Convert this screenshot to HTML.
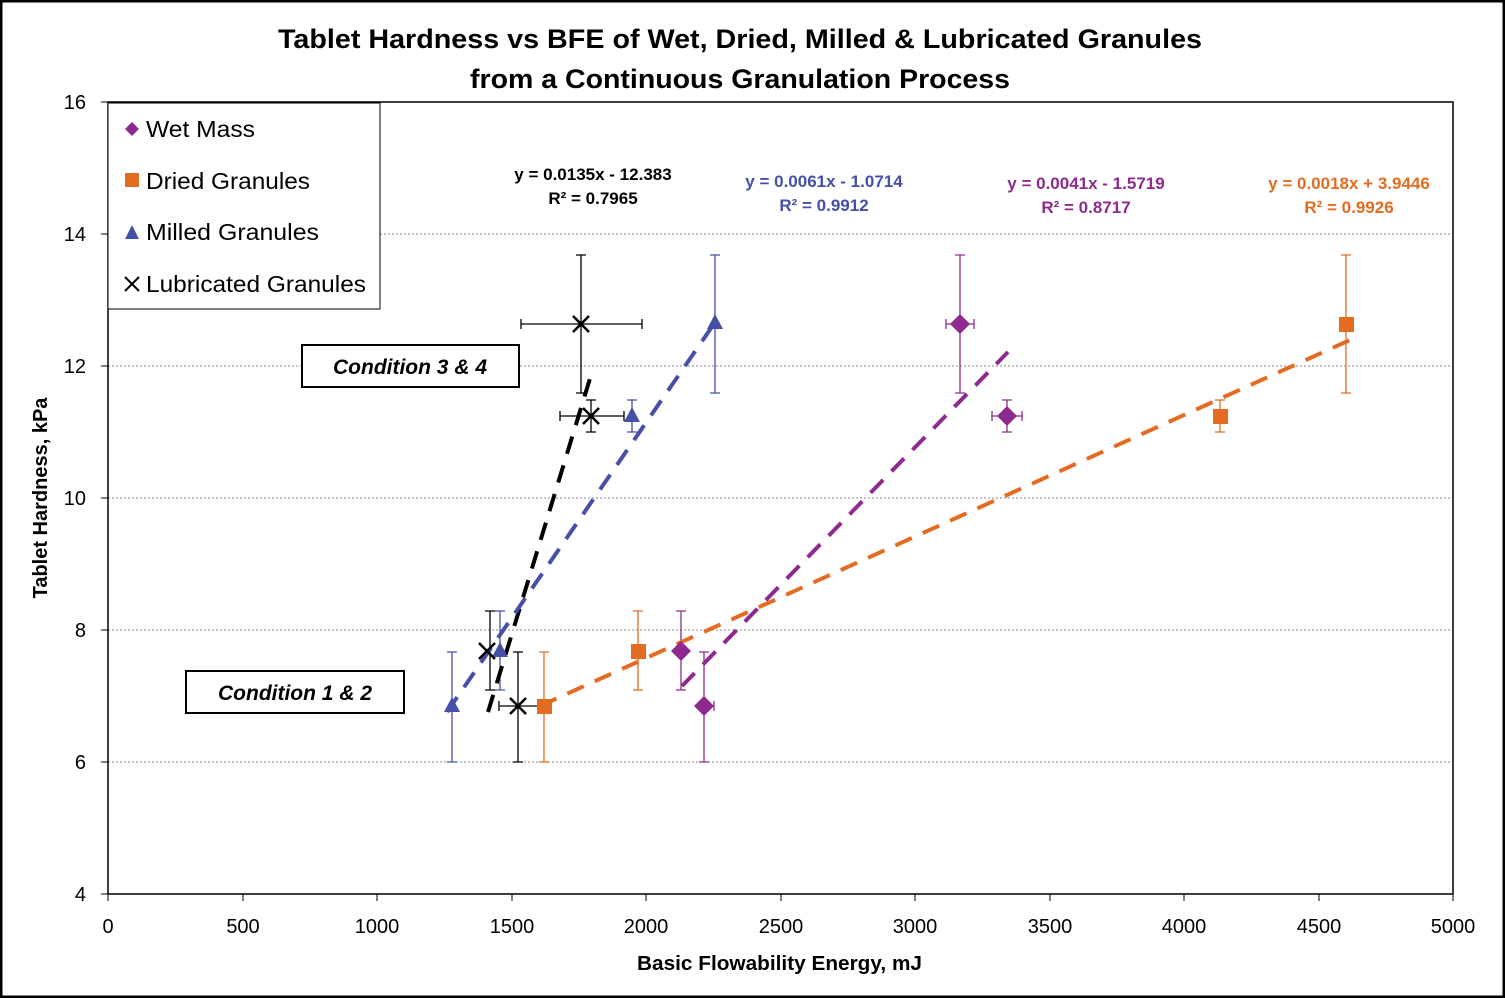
<!DOCTYPE html><html><head><style>body{margin:0}svg{display:block}text{font-family:"Liberation Sans",sans-serif}</style></head><body>
<svg width="1505" height="998" xmlns="http://www.w3.org/2000/svg">
<rect x="1" y="1" width="1503" height="996" fill="#fff" stroke="#000" stroke-width="3"/>
<text x="278" y="48" font-size="27" font-weight="bold" textLength="924" lengthAdjust="spacingAndGlyphs">Tablet Hardness vs BFE of Wet, Dried, Milled &amp; Lubricated Granules</text>
<text x="470" y="88" font-size="27" font-weight="bold" textLength="540" lengthAdjust="spacingAndGlyphs">from a Continuous Granulation Process</text>
<g stroke="#888" stroke-dasharray="2,2" stroke-width="1"><line x1="108" y1="234" x2="1453" y2="234"/><line x1="108" y1="366" x2="1453" y2="366"/><line x1="108" y1="498" x2="1453" y2="498"/><line x1="108" y1="630" x2="1453" y2="630"/><line x1="108" y1="762" x2="1453" y2="762"/></g>
<rect x="108" y="102" width="1345" height="792" fill="none" stroke="#000" stroke-width="1.5"/>
<g font-size="20" text-anchor="end"><text x="86" y="109">16</text><text x="86" y="241">14</text><text x="86" y="373">12</text><text x="86" y="505">10</text><text x="86" y="637">8</text><text x="86" y="769">6</text><text x="86" y="901">4</text></g>
<g stroke="#000"><line x1="101" y1="102" x2="108" y2="102"/><line x1="101" y1="234" x2="108" y2="234"/><line x1="101" y1="366" x2="108" y2="366"/><line x1="101" y1="498" x2="108" y2="498"/><line x1="101" y1="630" x2="108" y2="630"/><line x1="101" y1="762" x2="108" y2="762"/><line x1="101" y1="894" x2="108" y2="894"/></g>
<g font-size="20" text-anchor="middle"><text x="108" y="933">0</text><text x="243" y="933">500</text><text x="377" y="933">1000</text><text x="512" y="933">1500</text><text x="646" y="933">2000</text><text x="781" y="933">2500</text><text x="915" y="933">3000</text><text x="1050" y="933">3500</text><text x="1184" y="933">4000</text><text x="1319" y="933">4500</text><text x="1453" y="933">5000</text></g>
<g stroke="#000"><line x1="108" y1="894" x2="108" y2="901"/><line x1="243" y1="894" x2="243" y2="901"/><line x1="377" y1="894" x2="377" y2="901"/><line x1="512" y1="894" x2="512" y2="901"/><line x1="646" y1="894" x2="646" y2="901"/><line x1="781" y1="894" x2="781" y2="901"/><line x1="915" y1="894" x2="915" y2="901"/><line x1="1050" y1="894" x2="1050" y2="901"/><line x1="1184" y1="894" x2="1184" y2="901"/><line x1="1319" y1="894" x2="1319" y2="901"/><line x1="1453" y1="894" x2="1453" y2="901"/></g>
<text x="637" y="970" font-size="20" font-weight="bold" textLength="285" lengthAdjust="spacingAndGlyphs">Basic Flowability Energy, mJ</text>
<text transform="translate(47,498) rotate(-90)" font-size="20" font-weight="bold" text-anchor="middle">Tablet Hardness, kPa</text>
<g stroke-width="1.3" fill="none">
<path stroke="#8e2a8e" d="M960 255V393M955 255h10M955 393h10M946 324h28M946 319v10M974 319v10M1007 400V432M1002 400h10M1002 432h10M992 416h30M992 411v10M1022 411v10M681 611V690M676 611h10M676 690h10M704 652V762M699 652h10M699 762h10M696 706h18M714 701v10"/>
<path stroke="#e36c22" d="M1346 255V393M1341 255h10M1341 393h10M1220 400V432M1215 400h10M1215 432h10M638 611V690M633 611h10M633 690h10M544 652V762M539 652h10M539 762h10"/>
<path stroke="#4650a8" d="M715 255V393M710 255h10M710 393h10M632 400V432M627 400h10M627 432h10M500 611V690M495 611h10M495 690h10M452 652V762M447 652h10M447 762h10"/>
<path stroke="#000" d="M581 255V393M576 255h10M576 393h10M521 324h121M521 319v10M642 319v10M591 400V432M586 400h10M586 432h10M560 416h64M560 411v10M624 411v10M490 611V690M485 611h10M485 690h10M518 652V762M513 652h10M513 762h10M499 706h39M499 701v10M538 701v10"/>
</g>
<g stroke-width="4" stroke-dasharray="18,12" fill="none">
<line x1="488" y1="712" x2="592" y2="372" stroke="#000"/>
<line x1="447" y1="712" x2="718" y2="318" stroke="#4650a8"/>
<line x1="682" y1="686" x2="1008" y2="352" stroke="#8e2a8e"/>
<line x1="540" y1="706" x2="1350" y2="340" stroke="#e36c22"/>
</g>
<g fill="#8e2a8e"><path d="M960 314l10 10-10 10-10-10z"/><path d="M1007 406l10 10-10 10-10-10z"/><path d="M681 641l10 10-10 10-10-10z"/><path d="M704 696l10 10-10 10-10-10z"/></g>
<g fill="#e36c22"><rect x="1339" y="317" width="15" height="15"/><rect x="1213" y="409" width="15" height="15"/><rect x="631" y="644" width="15" height="15"/><rect x="537" y="699" width="15" height="15"/></g>
<g fill="#4650a8"><path d="M715 314l8 15h-16z"/><path d="M632 407l8 15h-16z"/><path d="M500 642l8 15h-16z"/><path d="M452 697l8 15h-16z"/></g>
<g stroke="#000" stroke-width="2.5"><path d="M573 316l16 16M589 316l-16 16M583 408l16 16M599 408l-16 16M479 643l16 16M495 643l-16 16M510 698l16 16M526 698l-16 16"/></g>
<g font-size="17" font-weight="bold" text-anchor="middle">
<text x="593" y="180" fill="#000">y = 0.0135x - 12.383</text><text x="593" y="204" fill="#000">R² = 0.7965</text>
<text x="824" y="187" fill="#4650a8">y = 0.0061x - 1.0714</text><text x="824" y="211" fill="#4650a8">R² = 0.9912</text>
<text x="1086" y="189" fill="#8e2a8e">y = 0.0041x - 1.5719</text><text x="1086" y="213" fill="#8e2a8e">R² = 0.8717</text>
<text x="1349" y="189" fill="#e36c22">y = 0.0018x + 3.9446</text><text x="1349" y="213" fill="#e36c22">R² = 0.9926</text>
</g>
<rect x="302" y="345" width="217" height="42" fill="#fff" stroke="#000" stroke-width="2"/>
<text x="410" y="374" font-size="21" font-weight="bold" font-style="italic" text-anchor="middle">Condition 3 &amp; 4</text>
<rect x="186" y="671" width="218" height="42" fill="#fff" stroke="#000" stroke-width="2"/>
<text x="295" y="700" font-size="21" font-weight="bold" font-style="italic" text-anchor="middle">Condition 1 &amp; 2</text>
<rect x="108" y="103" width="272" height="206" fill="#fff" stroke="#000" stroke-width="1"/>
<g font-size="23"><text x="146" y="137" textLength="109" lengthAdjust="spacingAndGlyphs">Wet Mass</text><text x="146" y="189" textLength="164" lengthAdjust="spacingAndGlyphs">Dried Granules</text><text x="146" y="240" textLength="173" lengthAdjust="spacingAndGlyphs">Milled Granules</text><text x="146" y="292" textLength="220" lengthAdjust="spacingAndGlyphs">Lubricated Granules</text></g>
<path d="M132 122l7 7-7 7-7-7z" fill="#8e2a8e"/>
<rect x="125" y="173" width="14" height="14" fill="#e36c22"/>
<path d="M132 225l7 14h-14z" fill="#4650a8"/>
<path d="M125 277l14 14M139 277l-14 14" stroke="#000" stroke-width="2"/>
</svg></body></html>
